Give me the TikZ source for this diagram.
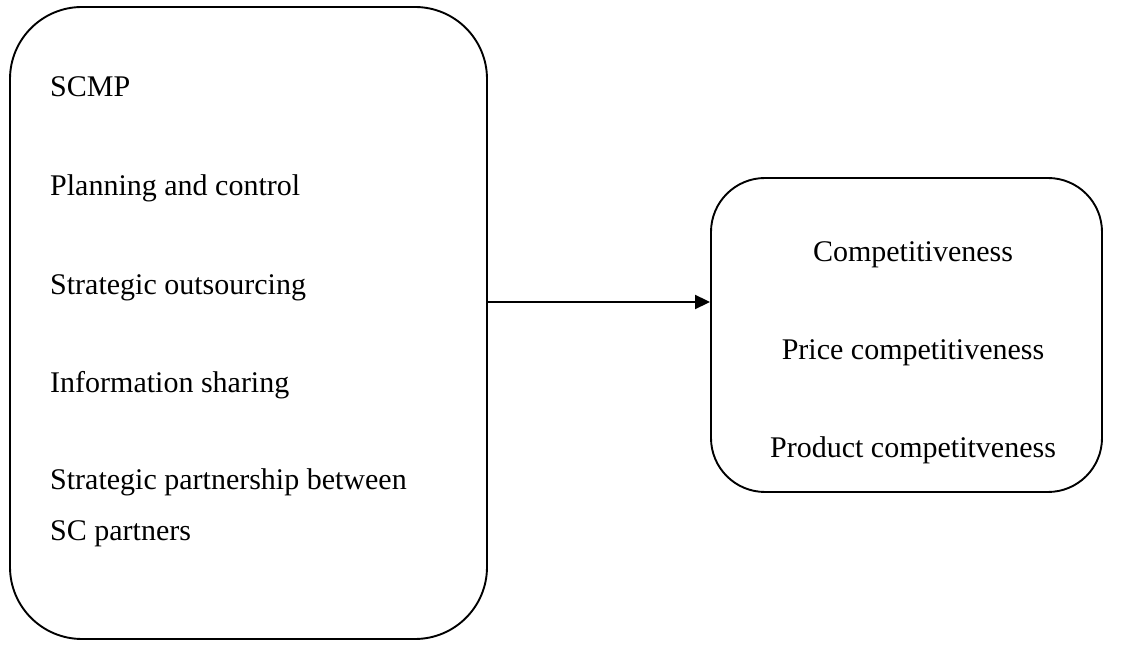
\documentclass[tikz,border=0pt]{standalone}
\usepackage{fontspec}
\setmainfont{Liberation Serif}
\usetikzlibrary{arrows.meta}
\begin{document}
\begin{tikzpicture}[x=1pt,y=1pt,
  box/.style={draw,line width=1.9pt,rounded corners=#1,inner sep=0pt},
  lbl/.style={inner sep=0pt,font=\fontsize{30}{35}\selectfont},
  conn/.style={line width=1.9pt,-{Triangle[length=15pt,width=14pt]}}]
\useasboundingbox (0,0) rectangle (1121,645);
\node[box=72pt,minimum width=477pt,minimum height=632pt] (lbox) at (248.5,322) {};
\node[box=54pt,minimum width=391pt,minimum height=314pt] (rbox) at (906.5,310) {};
\node[lbl,anchor=base west] (t1) at (50,548) {SCMP};
\node[lbl,anchor=base west] (t2) at (50,449) {Planning and control};
\node[lbl,anchor=base west] (t3) at (50,350) {Strategic outsourcing};
\node[lbl,anchor=base west] (t4) at (50,252) {Information sharing};
\node[lbl,anchor=base west] (t5) at (50,155) {Strategic partnership between};
\node[lbl,anchor=base west] (t6) at (50,104) {SC partners};
\node[lbl,anchor=base] (r1) at (913,383) {Competitiveness};
\node[lbl,anchor=base] (r2) at (913,285) {Price competitiveness};
\node[lbl,anchor=base] (r3) at (913,187) {Product competitveness};
\coordinate (ay) at (0,343);
\draw[conn] (lbox.east |- ay) -- (rbox.west |- ay);
\end{tikzpicture}
\end{document}
